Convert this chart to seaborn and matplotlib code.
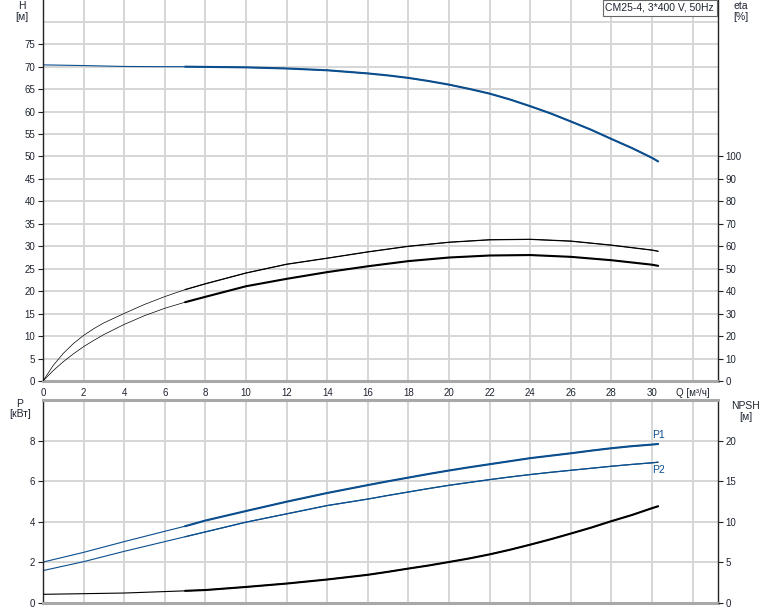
import pandas as pd
import matplotlib.pyplot as plt
import seaborn as sns

sns.set_style('white')
plt.rcParams['font.family'] = ['Liberation Sans', 'DejaVu Sans']
plt.rcParams['font.size'] = 7

blue = '#0b4e8e'
grid_c = '#d6d6d6'
txt_c = '#1e2430'

# Q, м³/ч
q = [0, 2, 4, 6, 7, 8, 10, 12, 14, 16, 17, 18, 19, 20, 21, 22, 23, 24, 25,
     26, 27, 28, 29, 30, 30.3]
h = [70.4, 70.25, 70.05, 70.0, 70.0, 69.95, 69.85, 69.6, 69.2, 68.5, 68.05,
     67.5, 66.8, 66.0, 65.05, 64.0, 62.7, 61.2, 59.6, 57.8, 55.95, 53.9, 51.9,
     49.7, 48.9]
p1 = [2.02, 2.50, 3.03, 3.54, 3.79, 4.07, 4.54, 5.0, 5.43, 5.82, 6.01, 6.19,
      6.37, 6.54, 6.70, 6.85, 7.00, 7.15, 7.27, 7.39, 7.52, 7.64, 7.74, 7.82, 7.85]
p2 = [1.60, 2.04, 2.55, 3.03, 3.27, 3.51, 3.99, 4.40, 4.81, 5.13, 5.31, 5.48,
      5.65, 5.81, 5.95, 6.09, 6.22, 6.34, 6.45, 6.55, 6.65, 6.75, 6.84, 6.92, 6.95]
npsh = [1.07, 1.15, 1.23, 1.41, 1.5, 1.6, 1.98, 2.4, 2.9, 3.48, 3.85, 4.25,
        4.63, 5.06, 5.5, 6.0, 6.57, 7.2, 7.86, 8.57, 9.3, 10.1, 10.85, 11.7, 11.94]

q_eta = [0, 0.5, 1, 1.5, 2, 2.5, 3, 4, 5, 6, 7, 8, 10, 12, 14, 16, 18, 20, 22,
         24, 26, 28, 30, 30.3]
eta_a = [0, 6.9, 12.3, 16.7, 20.3, 23.3, 25.9, 30.1, 34.1, 37.6, 40.7, 43.3,
         48.1, 52.0, 54.7, 57.5, 60.0, 61.8, 62.9, 63.1, 62.3, 60.5, 58.3, 57.8]
eta_b = [0, 4.6, 8.6, 12.1, 15.3, 18.1, 20.7, 25.2, 29.1, 32.4, 35.1, 37.5,
         42.2, 45.5, 48.5, 51.1, 53.4, 55.0, 55.9, 56.1, 55.3, 53.8, 51.8, 51.3]

x_ticks = list(range(0, 34, 2))
x_labels = [str(t) for t in x_ticks[:-1]] + ['Q [м³/ч]']


def curve(ax, x, y, color, lw_thin, lw_thick):
    df = pd.DataFrame({'Q': x, 'v': y})
    sns.lineplot(data=df, x='Q', y='v', ax=ax, color=color, lw=lw_thin,
                 estimator=None, sort=False)
    sns.lineplot(data=df[df.Q >= 7], x='Q', y='v', ax=ax, color=color,
                 lw=lw_thick, estimator=None, sort=False)
    ax.set_xlabel('')
    ax.set_ylabel('')


def frame(ax):
    ax.set_xlim(0, 33.25)
    ax.set_xticks(x_ticks)
    ax.grid(True, color=grid_c, lw=1.4)
    ax.set_axisbelow(True)
    for s in ['left', 'right']:
        ax.spines[s].set_color('#222222')
        ax.spines[s].set_linewidth(1.0)
    for s in ['top', 'bottom']:
        ax.spines[s].set_color('#a8a8a8')
        ax.spines[s].set_linewidth(2.2)
    ax.tick_params(axis='y', direction='out', length=3.5, width=0.8,
                   color='#222222', labelcolor=txt_c, labelsize=7, pad=2)


fig = plt.figure(figsize=(7.74, 6.11), dpi=100)
ax_h = fig.add_axes([43 / 774, 1 - 381 / 611, 675 / 774, 381 / 611])
ax_p = fig.add_axes([43 / 774, 1 - 603 / 611, 675 / 774, 203 / 611])

# top chart: H and eta
frame(ax_h)
ax_h.spines['top'].set_visible(False)
ax_h.set_ylim(0, 84.85)
ax_h.set_yticks(range(0, 80, 5))
ax_h.axhline(80, color=grid_c, lw=1.4, zorder=0)
ax_h.set_xticklabels(x_labels)
ax_h.tick_params(axis='x', direction='out', length=3, width=0.8,
                 color='#222222', labelcolor=txt_c, labelsize=7, pad=2)
curve(ax_h, q, h, blue, 0.8, 1.5)

ax_eta = ax_h.twinx()
ax_eta.set_ylim(0, 169.7)
ax_eta.set_yticks(range(0, 110, 10))
for s in ax_eta.spines.values():
    s.set_visible(False)
ax_eta.tick_params(axis='y', direction='out', length=3.5, width=0.8,
                   color='#222222', labelcolor=txt_c, labelsize=7, pad=2)
curve(ax_eta, q_eta, eta_a, 'black', 0.5, 0.9)
curve(ax_eta, q_eta, eta_b, 'black', 0.5, 1.5)

# bottom chart: P1, P2 and NPSH
frame(ax_p)
ax_p.set_ylim(0, 10.02)
ax_p.set_yticks([0, 2, 4, 6, 8])
ax_p.axhline(10, color=grid_c, lw=1.4, zorder=0)
ax_p.set_xticklabels([])
ax_p.tick_params(axis='x', length=0)
curve(ax_p, q, p1, blue, 0.8, 1.5)
curve(ax_p, q, p2, blue, 0.8, 0.9)
ax_p.annotate('P1', (q[-1], p1[-1]), xytext=(0, 2.5), textcoords='offset points',
              ha='center', va='bottom', color=blue, fontsize=7.5)
ax_p.annotate('P2', (q[-1], p2[-1]), xytext=(0, -2), textcoords='offset points',
              ha='center', va='top', color=blue, fontsize=7.5)

ax_n = ax_p.twinx()
ax_n.set_ylim(0, 25.05)
ax_n.set_yticks([0, 5, 10, 15, 20])
for s in ax_n.spines.values():
    s.set_visible(False)
ax_n.tick_params(axis='y', direction='out', length=3.5, width=0.8,
                 color='#222222', labelcolor=txt_c, labelsize=7, pad=2)
curve(ax_n, q, npsh, 'black', 0.8, 1.5)


# axis titles
def label(x, y, s):
    fig.text(x / 774, 1 - y / 611, s, ha='center', va='center',
             color=txt_c, fontsize=7.5)


label(22, 6, 'H')
label(22, 17, '[м]')
label(741, 6, 'eta')
label(741, 17.5, '[%]')
label(20, 404, 'P')
label(20, 414, '[кВт]')
label(746, 406, 'NPSH')
label(745.5, 417, '[м]')

fig.text(714 / 774, 1 - 8 / 611, 'CM25-4, 3*400 V, 50Hz', ha='right', va='center',
         color=txt_c, fontsize=7.5,
         bbox=dict(boxstyle='square,pad=0.25', fc='white', ec='#666666', lw=0.8))

fig.savefig('out.png', dpi=100)
